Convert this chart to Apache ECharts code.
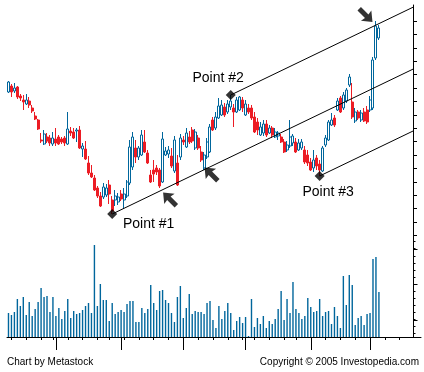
<!DOCTYPE html>
<html>
<head>
<meta charset="utf-8">
<script src="https://cdn.jsdelivr.net/npm/echarts@6/dist/echarts.min.js"></script>
<style>
html,body{margin:0;padding:0;background:#fff;}
#chart{width:424px;height:372px;}
</style>
</head>
<body>
<div id="chart"></div>
<script>
// ---------- data ----------
const SLOTS = 137; // trading-day slots on the time axis (data + empty right margin)
// [open, close, low, high]
const ohlc = [
[208,218,207,219],[214,208,203,216],[209,212,207,217],[213,203,201,214],[204,202,199,206],
[200,198,190,205],[196,200,195,206],[199,195,192,203],[192,189,187,195],[184,181,180,188],
[180,171,170,181],[160,159,157,167],[156,166,155,170],[163,159,157,167],[162,157,154,165],
[156,162,154,168],[161,157,154,172],[163,156,155,165],[161,158,156,163],[162,157,154,164],
[156,171,155,188],[169,167,164,173],[168,162,161,172],[169,170,158,172],[170,152,151,174],
[151,154,143,157],[151,141,140,159],[137,127,125,144],[127,123,122,135],[122,110,109,125],
[112,104,102,114],[104,94,93,108],[103,113,101,117],[105,112,103,116],[115,106,96,120],
[100,89,86,104],[100,104,94,110],[98,103,95,107],[106,101,99,110],[100,106,91,112],
[104,118,102,120],[117,153,115,160],[133,163,130,168],[152,143,137,160],[143,152,140,154],
[145,165,144,170],[158,148,147,170],[147,137,136,150],[125,118,117,130],[130,126,118,140],
[132,128,125,135],[130,114,112,132],[118,161,117,168],[145,149,144,153],[146,150,142,154],
[144,134,132,152],[129,160,127,164],[137,115,114,145],[143,162,140,166],[160,158,155,164],
[153,167,152,172],[163,158,156,169],[170,159,157,173],[152,168,150,171],[162,152,150,165],
[148,140,138,154],[132,145,130,148],[143,158,141,162],[148,173,147,176],[180,170,169,183],
[172,183,170,188],[182,194,181,202],[185,195,184,200],[193,185,183,197],[188,196,186,200],
[193,199,190,205],[192,188,173,196],[188,200,187,203],[190,203,189,204],[200,192,188,203],
[185,196,184,200],[192,188,186,196],[192,182,180,195],[183,168,167,188],[178,170,165,182],
[165,173,164,178],[167,176,164,180],[176,165,163,180],[167,172,166,175],[172,165,162,174],
[163,168,162,172],[164,167,160,169],[163,158,157,166],[158,148,147,161],[150,155,148,159],
[154,163,152,180],[157,164,154,166],[158,148,147,162],[150,157,149,161],[152,158,150,161],
[150,138,136,154],[145,137,134,150],[138,130,129,142],[132,140,128,150],[142,134,130,145],
[136,130,124,140],[129,152,128,154],[155,162,153,165],[160,178,159,180],[175,180,174,187],
[182,175,173,185],[190,199,189,202],[202,188,187,204],[192,205,190,208],[199,210,197,212],
[215,223,213,226],[198,183,181,217],[179,188,177,192],[188,182,180,190],[180,187,178,190],
[188,179,178,192],[190,178,176,194],[190,200,188,204],[192,240,190,243],[242,274,240,279],
[262,272,260,275]
];
const volume = [
24,22,25,38,31,40,22,35,21,28, 35,49,40,41,25,40,21,29,18,26,
38,19,26,23,24,27,31,34,24,92, 31,53,37,37,16,34,23,25,27,25,
33,36,36,15,15, 29,24,28,52,34, 27,46,47,37,34, 24,15,40,51,19,
29,43,23,26,25, 25,23,34,36,17, 9,31,18,26,34, 24,7,16,20,14,
20,1,38,10,19, 13,21,9,16,13, 18,28,46,17,38, 24,55,28,24,18,
21,39,30,25,26, 38,21,25,26,13, 30,21,9,61,32, 62,52,12,19,21,
12,23,24,78,80, 45
];
// pitchfork pivots (candle index + which extreme)
const pivots = [{i:35, at:'low'}, {i:75, at:'high'}, {i:105, at:'low'}];
const pivotLabels = ['Point #1', 'Point #2', 'Point #3'];
// annotation arrows (slot position, price, direction)
const arrows = [{x:54.7, y:100, dir:'ul'}, {x:68.7, y:125, dir:'ul'}, {x:120.3, y:285.5, dir:'dr'}];
// time-axis ticks (slot indices)
const weekTicks = [1,6,11,15,20,25,30,34,39,44,49,54,59,64,69,74,79,83,88,93,97,102,107,112,117,122,127,132];
const monthTicks = [16,38,59,80,102,122];

// ---------- build ----------
const RED = '#ec1c24', BLUE = '#00669c';
const slots = Array.from({length: SLOTS}, (_, k) => String(k));
const weekSet = new Set(weekTicks), monthSet = new Set(monthTicks);

const P = pivots.map(p => [p.i, p.at === 'low' ? ohlc[p.i][2] : ohlc[p.i][3]]);
const mid = [(P[1][0] + P[2][0]) / 2, (P[1][1] + P[2][1]) / 2];
const slope = (mid[1] - P[0][1]) / (mid[0] - P[0][0]);
const xEnd = SLOTS - 0.5;
const forkLine = p => [p, [xEnd, p[1] + slope * (xEnd - p[0])]];

const ARROW = 'path://M0,0 L10,1 L6.5,3.5 L13,10 L10,13 L3.5,6.5 L1,10 Z';

const L = 7, R = 11;
const tickAxisY = (grid, max, len) => ({
  type:'value', gridIndex:grid, position:'right', min:0, max:max, interval:1,
  axisLine:{show:false, onZero:false}, axisLabel:{show:false}, splitLine:{show:false},
  axisTick:{show:true, length:len, lineStyle:{color:'#000', width:1}}
});
const hiddenX = g => ({type:'value', gridIndex:g, min:0, max:1, show:false});

const chart = echarts.init(document.getElementById('chart'), null, {renderer:'canvas'});
chart.setOption({
  animation:false,
  backgroundColor:'#fff',
  grid:[
    {left:L, right:R, top:0, height:250},          // 0 price
    {left:L, right:R, top:237, height:100},        // 1 volume
    {left:L, right:R, top:5, height:332},          // 2 right frame line
    {left:L, right:R, top:21, height:214.4},       // 3 price ticks
    {left:L, right:R, top:241.7, height:91.5},     // 4 volume minor ticks
    {left:L, right:R, top:249, height:71},         // 5 volume major ticks
    {left:L, right:3, top:5, height:332}           // 6 bottom line
  ],
  xAxis:[
    {type:'category', gridIndex:0, data:slots, show:false},
    {type:'value', gridIndex:0, min:-0.5, max:SLOTS-0.5, show:false},
    {type:'category', gridIndex:1, data:slots, position:'bottom',
      axisLine:{show:false, onZero:false}, axisLabel:{show:false},
      axisTick:{show:true, alignWithLabel:true, length:3, interval:(i)=>weekSet.has(i), lineStyle:{color:'#000'}}},
    {type:'category', gridIndex:1, data:slots, position:'bottom',
      axisLine:{show:false, onZero:false}, axisLabel:{show:false},
      axisTick:{show:true, alignWithLabel:true, length:13, interval:(i)=>monthSet.has(i), lineStyle:{color:'#000'}}},
    hiddenX(2), hiddenX(3), hiddenX(4), hiddenX(5),
    {type:'value', gridIndex:6, min:0, max:1, position:'bottom',
      axisLine:{show:true, onZero:false, lineStyle:{color:'#000', width:1}}, axisTick:{show:false}, axisLabel:{show:false}, splitLine:{show:false}}
  ],
  yAxis:[
    {type:'value', gridIndex:0, min:50, max:300, show:false},
    {type:'value', gridIndex:1, min:0, max:100, show:false},
    {type:'value', gridIndex:2, position:'right', min:0, max:1,
      axisLine:{show:true, onZero:false, lineStyle:{color:'#000', width:1}}, axisTick:{show:false}, axisLabel:{show:false}, splitLine:{show:false}},
    tickAxisY(3, 16, 4),
    tickAxisY(4, 13, 2.5),
    tickAxisY(5, 2, 4.5),
    {type:'value', gridIndex:6, min:0, max:1, show:false}
  ],
  series:[
    {type:'candlestick', xAxisIndex:0, yAxisIndex:0, data:ohlc, barWidth:2.5,
      itemStyle:{color:'#ffffff', color0:RED, borderColor:BLUE, borderColor0:RED, borderWidth:1}},
    {type:'bar', xAxisIndex:2, yAxisIndex:1, data:volume, barWidth:1.4,
      itemStyle:{color:BLUE}},
    ...P.map(p => ({type:'line', xAxisIndex:1, yAxisIndex:0, data:forkLine(p), symbol:'none', clip:false,
      lineStyle:{color:'#000', width:1}, z:3})),
    {type:'scatter', xAxisIndex:1, yAxisIndex:0, data:P, symbol:'diamond', symbolSize:[10,10],
      itemStyle:{color:'#000'}, z:4},
    {type:'scatter', xAxisIndex:1, yAxisIndex:0, z:5,
      data:arrows.map(a => ({value:[a.x, a.y], symbolRotate: a.dir === 'dr' ? 180 : 0})),
      symbol:ARROW, symbolSize:[15,15], itemStyle:{color:'#000'}}
  ],
  graphic:[
    {type:'text', left:123, top:217, style:{text:pivotLabels[0], font:'14px "Liberation Sans", Arial, sans-serif', fill:'#000'}},
    {type:'text', left:192.5, top:71.5, style:{text:pivotLabels[1], font:'14px "Liberation Sans", Arial, sans-serif', fill:'#000'}},
    {type:'text', left:302.5, top:185, style:{text:pivotLabels[2], font:'14px "Liberation Sans", Arial, sans-serif', fill:'#000'}},
    {type:'text', left:7, top:357.5, style:{text:'Chart by Metastock', font:'10px "Liberation Sans", Arial, sans-serif', fill:'#000'}},
    {type:'text', right:5, top:357.5, style:{text:'Copyright \u00a9 2005 Investopedia.com', font:'10px "Liberation Sans", Arial, sans-serif', fill:'#000'}}
  ]
});
</script>
</body>
</html>
